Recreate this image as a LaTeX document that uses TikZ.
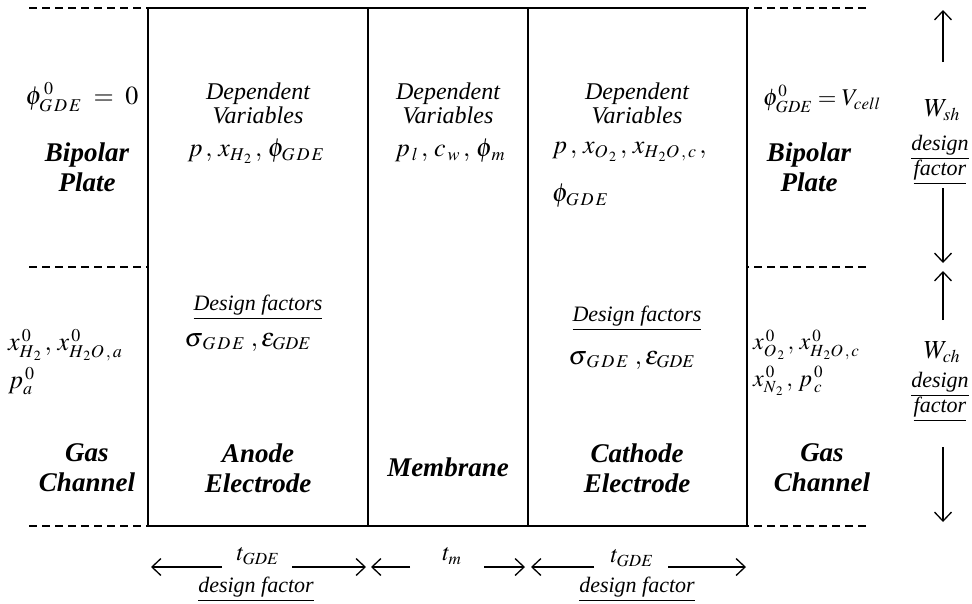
\documentclass[tikz,border=0pt]{standalone}
\usepackage{mathptmx}
\usepackage{fontspec}
\setmainfont{Liberation Serif}
\DeclareMathSizes{26}{26}{18}{14}
\DeclareMathSizes{24}{24}{17}{13}
\usetikzlibrary{arrows.meta}
\begin{document}
\begin{tikzpicture}[x=1pt,y=-1pt,
  every node/.style={inner sep=0pt},
  lbl/.style={font=\fontsize{27}{30}\selectfont\bfseries\itshape, align=center},
  dep/.style={font=\fontsize{24}{24}\selectfont\itshape, align=center},
  dfs/.style={font=\fontsize{22}{23}\selectfont\itshape, align=center},
  mth/.style={font=\fontsize{26}{28}\selectfont},
  sml/.style={font=\fontsize{24}{26}\selectfont},
  frame/.style={line width=1.8pt},
  dsh/.style={line width=2pt, dash pattern=on 8pt off 5pt},
  dimarrow/.style={line width=1.3pt, -{Straight Barb[length=9pt,width=17pt,line width=1.3pt]}}]
\useasboundingbox (0,0) rectangle (972,603);
% frame corners and dividers
\coordinate (TL) at (148,8);
\coordinate (BR) at (747,526);
\coordinate (d1t) at (368,8);
\coordinate (d1b) at (368,526);
\coordinate (d2t) at (528,8);
\coordinate (d2b) at (528,526);
\draw[frame] (TL) rectangle (BR);
\draw[frame] (d1t) -- (d1b);
\draw[frame] (d2t) -- (d2b);
% dashed extensions
\coordinate (lt) at (29,8);   \coordinate (lte) at (148,8);
\coordinate (lm) at (29,267); \coordinate (lme) at (148,267);
\coordinate (lb) at (29,526); \coordinate (lbe) at (148,526);
\coordinate (rt) at (747,8);   \coordinate (rte) at (866,8);
\coordinate (rm) at (747,267); \coordinate (rme) at (866,267);
\coordinate (rb) at (747,526); \coordinate (rbe) at (866,526);
\draw[dsh] (lt) -- (lte);
\draw[dsh] (lm) -- (lme);
\draw[dsh] (lb) -- (lbe);
\draw[dsh] (rte) -- (rt);
\draw[dsh] (rme) -- (rm);
\draw[dsh] (rbe) -- (rb);
% left column
\node[mth] (phiL) at (82,97) {$\phi^{\,0}_{G\,D\,E}\;=\;0$};
\node[lbl] (bpL) at (87,167) {Bipolar\\Plate};
\node[mth, anchor=west] (xL) at (8,345) {$x^{\,0}_{H_{\,2}}\,,\,x^{\,0}_{H_{\,2}O\,,\,a}$};
\node[mth, anchor=west] (pL) at (8,381) {$p^{\,0}_{a}$};
\node[lbl] (gcL) at (87,468) {Gas\\Channel};
% anode
\node[dep] (depA) at (258,103) {Dependent\\Variables};
\node[mth] (varA) at (256,151) {$p\,,\,x_{H_{\,2}}\,,\,\phi_{G\,D\,E}$};
\node[dfs] (dfA) at (258,307) {\underline{Design factors}};
\node[mth] (sgA) at (248,342) {$\sigma_{\,G\,D\,E}\;,\varepsilon_{GDE}$};
\node[lbl] (anA) at (258,468) {Anode\\Electrode};
% membrane
\node[dep] (depM) at (448,103) {Dependent\\Variables};
\node[mth] (varM) at (450,151) {$p_{\,l}\,,\,c_{\,w}\,,\,\phi_{\,m}$};
\node[lbl] (mem) at (448,467) {Membrane};
% cathode
\node[dep] (depC) at (637,103) {Dependent\\Variables};
\node[mth, anchor=west] (varC) at (552,152) {$p\,,\,x_{O_{\,2}}\,,\,x_{H_{\,2}O\,,\,c}\,,$};
\node[mth, anchor=west] (varC2) at (552,196) {$\phi_{G\,D\,E}$};
\node[dfs] (dfC) at (637,318) {\underline{Design factors}};
\node[mth] (sgC) at (632,360) {$\sigma_{\,G\,D\,E}\;,\varepsilon_{GDE}$};
\node[lbl] (caC) at (637,468) {Cathode\\Electrode};
% right column
\node[sml] (phiR) at (822,99) {$\phi^{0}_{GDE}=V_{cell}$};
\node[lbl] (bpR) at (809,167) {Bipolar\\Plate};
\node[sml, anchor=west] (xR) at (753,345) {$x^{\,0}_{O_{\,2}}\,,\,x^{\,0}_{H_{\,2}O\,,\,c}$};
\node[sml, anchor=west] (xR2) at (753,381) {$x^{\,0}_{N_{\,2}}\,,\,p^{\,0}_{\,c}$};
\node[lbl] (gcR) at (822,468) {Gas\\Channel};
% right dimension arrows
\node[mth] (wsh) at (942,110) {$W_{sh}$};
\node[dfs] (dsh1) at (940,160) {\underline{design}\\\underline{factor}};
\coordinate (u1s) at (943,62);  \coordinate (u1e) at (943,10);
\coordinate (d1s) at (943,188); \coordinate (d1e) at (943,263);
\draw[dimarrow] (u1s) -- (u1e);
\draw[dimarrow] (d1s) -- (d1e);
\node[mth] (wch) at (942,352) {$W_{ch}$};
\node[dfs] (dsh2) at (940,397) {\underline{design}\\\underline{factor}};
\coordinate (u2s) at (943,320); \coordinate (u2e) at (943,271);
\coordinate (d2s) at (943,447); \coordinate (d2e) at (943,522);
\draw[dimarrow] (u2s) -- (u2e);
\draw[dimarrow] (d2s) -- (d2e);
% bottom dimension arrows
\node[sml] (tA) at (258,556) {$t_{GDE}$};
\node[dfs] (dfbA) at (256,589) {\underline{design factor}};
\coordinate (b1s) at (222,567); \coordinate (b1e) at (151,567);
\coordinate (b2s) at (292,567); \coordinate (b2e) at (366,567);
\draw[dimarrow] (b1s) -- (b1e);
\draw[dimarrow] (b2s) -- (b2e);
\node[sml] (tM) at (452,556) {$t_{m}$};
\coordinate (b3s) at (410,567); \coordinate (b3e) at (371,567);
\coordinate (b4s) at (484,567); \coordinate (b4e) at (525,567);
\draw[dimarrow] (b3s) -- (b3e);
\draw[dimarrow] (b4s) -- (b4e);
\node[sml] (tC) at (632,558) {$t_{GDE}$};
\node[dfs] (dfbC) at (637,589) {\underline{design factor}};
\coordinate (b5s) at (594,567); \coordinate (b5e) at (531,567);
\coordinate (b6s) at (668,567); \coordinate (b6e) at (746,567);
\draw[dimarrow] (b5s) -- (b5e);
\draw[dimarrow] (b6s) -- (b6e);
\end{tikzpicture}
\end{document}
